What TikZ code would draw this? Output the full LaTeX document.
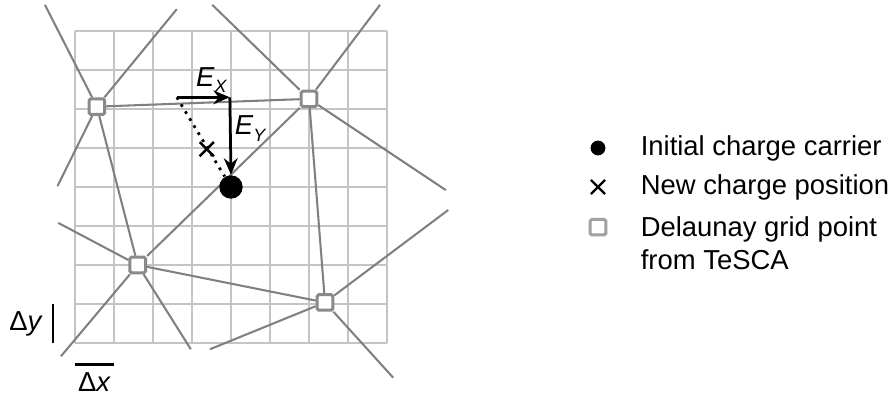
\documentclass[tikz,border=0pt]{standalone}
\usepackage{fontspec}
\setmainfont{Liberation Sans}
\usetikzlibrary{arrows.meta,shapes.misc,backgrounds}
\definecolor{gridgray}{RGB}{196,196,196}
\definecolor{delgray}{RGB}{128,128,128}
\definecolor{sqgray}{RGB}{138,138,138}
\newcommand{\Efield}[1]{\textit{E}\raisebox{-.45ex}{\fontsize{6.5}{7}\selectfont\textit{#1}}}

\begin{document}
\begin{tikzpicture}[x=.5cm,y=.5cm,every node/.style={font=\fontsize{10}{12}\selectfont},
    gridpt/.style={draw=sqgray,fill=white,line width=1.1pt,rounded corners=.6pt,minimum size=.2cm,inner sep=0pt},
    carrier/.style={circle,fill=black,minimum size=.3cm,inner sep=0pt},
    newpos/.style={cross out,draw=black,line width=.9pt,minimum size=.15cm,inner sep=0pt},
    dline/.style={delgray,line width=.75pt},
    efield/.style={-{Stealth[length=6pt,width=5pt]},line width=1pt},
    scalebar/.style={line width=.9pt}]
  \useasboundingbox (-1.923,-1.308) rectangle (20.846,8.795);
  % Delaunay points and charge
  \node[gridpt] (pA) at (0.56,6.06) {};
  \node[gridpt] (pB) at (6.0,6.26) {};
  \node[gridpt] (pC) at (1.61,2.0) {};
  \node[gridpt] (pD) at (6.41,1.04) {};
  \node[carrier] (q0) at (4,4) {};
  \node[newpos] (q1) at (3.38,4.97) {};
  \coordinate (ex0) at (2.61,6.3); \coordinate (ex1) at (3.97,6.3);
  \coordinate (a1) at (-0.77,8.67); \coordinate (a2) at (2.61,8.56); \coordinate (a3) at (-0.45,4.02);
  \coordinate (b1) at (3.52,8.67); \coordinate (b2) at (7.82,8.67); \coordinate (b3) at (9.51,3.92);
  \coordinate (c1) at (-0.43,3.08); \coordinate (c2) at (-0.36,-0.34); \coordinate (c3) at (2.97,-0.16);
  \coordinate (d1) at (9.57,3.41); \coordinate (d2) at (3.46,-0.16); \coordinate (d3) at (8.16,-0.89);
  \begin{scope}[on background layer]
    \draw[gridgray,line width=.75pt,step=.5cm] (0,0) grid (8,8);
    \foreach \s/\t in {pA/pB,pA/pC,pC/pB,pB/pD,pC/pD,pA/a1,pA/a2,pA/a3,pB/b1,pB/b2,pB/b3,pC/c1,pC/c2,pC/c3,pD/d1,pD/d2,pD/d3}
      \draw[dline] (\s) -- (\t);
  \end{scope}
  % field components
  \draw[efield] (ex0) -- (ex1);
  \draw[efield] (ex1) -- (q0.north);
  \draw[dotted,line width=1pt] (ex0) -- (q0);
  \node (lex) at (3.5,6.74) {\Efield{X}};
  \node (ley) at (4.5,5.5) {\Efield{Y}};
  % grid spacing
  \coordinate (dy0) at (-0.56,0); \coordinate (dy1) at (-0.56,1);
  \coordinate (dx0) at (0,-0.55); \coordinate (dx1) at (1,-0.55);
  \draw[scalebar] (dy0) -- (dy1) node[midway,left] (ldy) {Δ\textit{y}};
  \draw[scalebar] (dx0) -- (dx1) node[midway,anchor=north,inner sep=2.5pt] (ldx) {Δ\textit{x}};
  % legend
  \node[carrier,minimum size=.19cm] (k1) at (13.41,5.0) {};
  \node[newpos] (k2) at (13.41,4.0) {};
  \node[gridpt,draw=sqgray!80] (k3) at (13.41,2.97) {};
  \node[anchor=west] (t1) at (14.26,5.0) {Initial charge carrier};
  \node[anchor=west] (t2) at (14.26,4.0) {New charge position};
  \node[anchor=west,align=left] (t3) at (14.26,2.56) {Delaunay grid point\\from TeSCA};
\end{tikzpicture}
\end{document}
